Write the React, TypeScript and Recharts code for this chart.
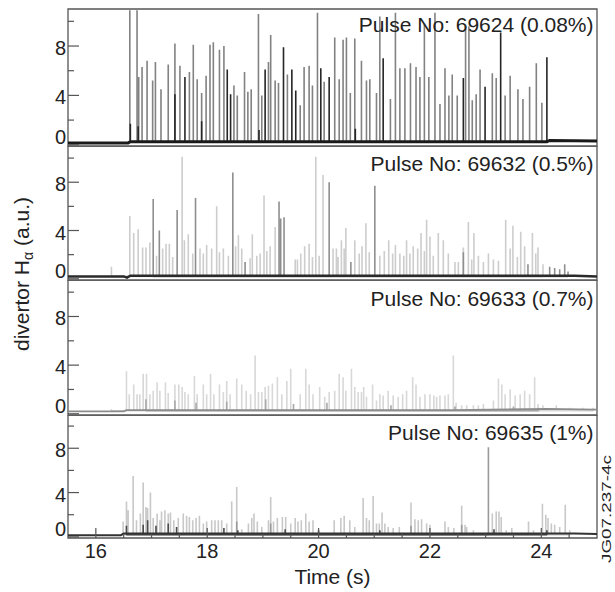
import React from "react";
import { LineChart, Line, XAxis, YAxis, ReferenceArea } from "recharts";

// axes: time in seconds, divertor H-alpha in arbitrary units
const timeDomain = [15.5, 25];
const timeTicks = [16, 16.5, 17, 17.5, 18, 18.5, 19, 19.5, 20, 20.5, 21, 21.5, 22, 22.5, 23, 23.5, 24, 24.5];
const timeLabels = [16, 18, 20, 22, 24];
const levelDomain = [-0.1, 11];
const levelTicks = [0, 2, 4, 6, 8, 10];
const levelLabels = [0, 4, 8];

const pulseLabels = [
  "Pulse No: 69624 (0.08%)",
  "Pulse No: 69632 (0.5%)",
  "Pulse No: 69633 (0.7%)",
  "Pulse No: 69635 (1%)",
];

// ELM spikes as [time, peak]; baselines as [time, level]
const p69624Grey = [
  [16.61, 10.9], [16.74, 10.9], [16.77, 5.5], [16.83, 6.3], [16.92, 6.8], [17.02, 5.2], [17.07, 6.7],
  [17.17, 4.5], [17.3, 6.5], [17.42, 8.2], [17.51, 6.4], [17.68, 5.9], [17.75, 8.1], [17.82, 5.3],
  [17.9, 4.2], [17.98, 5.6], [18.05, 8.1], [18.11, 8.3], [18.22, 7.7], [18.3, 8.0], [18.48, 4.8],
  [18.54, 4.0], [18.67, 5.9], [18.73, 4.3], [18.79, 4.5], [18.92, 10.6], [18.98, 4.0], [19.1, 6.7],
  [19.14, 8.9], [19.22, 5.2], [19.28, 5.0], [19.44, 5.7], [19.67, 3.2], [19.74, 6.3], [19.83, 6.4],
  [19.89, 4.8], [19.98, 10.7], [20.1, 5.1], [20.29, 8.7], [20.37, 5.3], [20.44, 8.5], [20.5, 8.7],
  [20.57, 4.2], [20.65, 8.6], [20.77, 6.8], [20.86, 5.2], [20.92, 5.3], [21.04, 4.2], [21.1, 10.4],
  [21.29, 3.7], [21.38, 10.7], [21.46, 6.2], [21.55, 6.2], [21.65, 6.6], [21.75, 6.3], [21.82, 5.5],
  [21.9, 9.8], [21.98, 5.5], [22.09, 10.7], [22.18, 3.3], [22.27, 6.2], [22.34, 4.0], [22.4, 5.7],
  [22.49, 4.0], [22.64, 9.6], [22.7, 9.6], [22.76, 3.6], [22.83, 4.1], [22.9, 6.1], [23.12, 5.8],
  [23.19, 5.4], [23.35, 4.0], [23.44, 5.6], [23.58, 4.5], [23.67, 3.7], [23.79, 4.7], [23.91, 6.6],
  [24.01, 3.4],
];
const p69624Dark = [
  [16.62, 1.7], [16.76, 1.5], [17.42, 4.1], [17.6, 5.5], [17.9, 1.9], [18.36, 6.1], [18.42, 4.1],
  [18.93, 1.2], [19.04, 6.1], [19.37, 7.9], [19.52, 6.1], [19.59, 4.4], [20.04, 6.2], [20.19, 5.5],
  [20.66, 1.3], [21.16, 7.0], [22.6, 5.4], [22.99, 4.7], [23.27, 9.1], [24.1, 7.1],
];
const p69624Base = [[15.5, 0.15], [16.58, 0.15], [16.62, 0.25], [24.1, 0.25], [24.15, 0.35], [25, 0.3]];

const p69632Light = [
  [16.28, 1.0], [16.61, 5.2], [16.68, 3.8], [16.76, 4.1], [16.84, 2.6], [16.9, 2.6], [16.97, 3.0],
  [17.09, 1.9], [17.2, 2.5], [17.26, 2.9], [17.32, 2.9], [17.38, 1.8], [17.55, 10.1], [17.59, 3.2],
  [17.66, 3.7], [17.74, 2.1], [17.87, 2.5], [17.93, 2.1], [17.99, 2.8], [18.08, 2.5], [18.17, 6.0],
  [18.22, 2.2], [18.29, 2.5], [18.38, 1.9], [18.51, 2.7], [18.56, 3.6], [18.62, 2.5], [18.77, 1.7],
  [18.81, 3.7], [18.89, 1.9], [18.95, 2.1], [19.02, 6.9], [19.07, 2.3], [19.13, 2.7], [19.22, 4.3],
  [19.58, 1.6], [19.62, 1.6], [19.68, 2.1], [19.75, 2.7], [19.83, 2.9], [19.89, 1.8], [19.95, 10.1],
  [20.01, 1.9], [20.08, 8.6], [20.26, 2.5], [20.32, 2.5], [20.35, 1.8], [20.41, 3.2], [20.46, 2.5],
  [20.49, 4.2], [20.65, 3.2], [20.73, 2.1], [20.78, 2.7], [20.85, 4.6], [20.91, 2.2], [21.1, 1.9],
  [21.18, 2.3], [21.26, 3.2], [21.33, 2.1], [21.38, 2.8], [21.46, 2.1], [21.53, 1.9], [21.58, 3.2],
  [21.64, 2.1], [21.7, 2.7], [21.78, 2.5], [21.84, 3.8], [21.9, 2.3], [21.94, 4.9], [22.0, 3.5],
  [22.06, 1.9], [22.15, 3.8], [22.24, 3.2], [22.33, 2.1], [22.45, 1.4], [22.51, 1.4], [22.6, 2.6],
  [22.69, 4.7], [22.75, 1.6], [22.79, 3.8], [22.87, 1.9], [22.96, 1.4], [23.05, 2.1], [23.14, 1.6],
  [23.23, 1.5], [23.36, 4.9], [23.44, 2.5], [23.49, 4.4], [23.57, 1.8], [23.63, 3.9], [23.7, 2.7],
  [23.84, 3.8], [23.9, 2.1], [23.94, 2.6], [24.03, 1.2],
];
const p69632Mid = [
  [17.03, 6.6], [17.14, 4.0], [17.46, 5.7], [17.79, 6.7], [18.46, 8.8], [18.68, 1.4], [19.29, 6.4],
  [19.32, 5.0], [19.38, 5.1], [20.19, 8.0], [20.58, 1.4], [21.01, 7.7], [22.6, 2.2], [23.76, 1.2],
  [24.15, 1.0], [24.24, 0.9], [24.33, 0.8], [24.42, 1.2], [24.48, 0.6],
];
const p69632Base = [[15.5, 0.2], [16.5, 0.2], [16.56, 0.1], [16.62, 0.25], [24.6, 0.25], [25, 0.2]];

const p69633Light = [
  [16.28, 0.4], [16.55, 3.5], [16.6, 1.6], [16.68, 2.4], [16.74, 1.6], [16.79, 1.6], [16.85, 3.3],
  [16.91, 3.3], [16.97, 1.6], [17.03, 1.9], [17.1, 2.6], [17.15, 1.9], [17.25, 2.6], [17.3, 1.7],
  [17.42, 2.4], [17.49, 2.4], [17.55, 2.2], [17.6, 1.8], [17.66, 1.6], [17.77, 3.1], [17.82, 1.6],
  [17.93, 2.4], [17.99, 1.6], [18.06, 3.3], [18.12, 1.6], [18.22, 2.4], [18.29, 1.8], [18.35, 2.7],
  [18.41, 1.6], [18.53, 2.9], [18.62, 2.4], [18.7, 1.9], [18.78, 1.6], [18.86, 4.8], [18.92, 1.8],
  [18.98, 1.8], [19.04, 2.2], [19.1, 2.3], [19.17, 2.5], [19.26, 3.0], [19.34, 1.6], [19.43, 2.7],
  [19.5, 3.7], [19.67, 1.6], [19.77, 3.7], [19.83, 2.4], [19.9, 1.6], [20.02, 2.2], [20.11, 1.4],
  [20.19, 1.8], [20.29, 1.9], [20.37, 3.3], [20.44, 3.0], [20.49, 1.9], [20.59, 3.7], [20.65, 2.2],
  [20.71, 1.8], [20.77, 1.8], [20.81, 2.2], [20.86, 1.4], [20.97, 2.4], [21.04, 1.1], [21.1, 1.6],
  [21.16, 1.5], [21.25, 1.9], [21.34, 1.5], [21.43, 1.4], [21.51, 1.6], [21.58, 1.9], [21.69, 3.0],
  [21.75, 2.4], [21.82, 1.4], [21.91, 1.6], [22.0, 1.6], [22.07, 1.5], [22.12, 1.4], [22.18, 1.5],
  [22.27, 1.5], [22.33, 1.6], [22.42, 4.8], [22.47, 0.9], [22.57, 0.7], [22.66, 0.7], [22.78, 0.7],
  [22.87, 0.7], [22.96, 0.8], [23.14, 1.1], [23.23, 2.9], [23.29, 2.4], [23.35, 1.6], [23.44, 2.0],
  [23.53, 1.5], [23.62, 1.6], [23.7, 1.9], [23.79, 1.6], [23.88, 3.0], [23.94, 0.8], [24.03, 0.7],
  [24.27, 0.7], [24.51, 0.5], [24.75, 0.5], [24.93, 0.5],
];
const p69633Mid = [
  [16.9, 1.2], [17.42, 1.1], [17.8, 0.9], [18.35, 1.0], [19.05, 1.2], [19.55, 0.8], [20.15, 0.9],
  [21.3, 0.7], [22.45, 0.6], [23.5, 0.6], [23.95, 0.5],
];
const p69633Base = [[15.5, 0.2], [16.5, 0.2], [16.55, 0.3], [22.4, 0.3], [24.1, 0.4], [25, 0.35]];

const p69635Light = [
  [16.49, 1.4], [16.55, 3.2], [16.58, 2.4], [16.67, 5.5], [16.73, 1.5], [16.8, 2.1], [16.85, 4.9],
  [16.9, 2.7], [16.93, 2.6], [16.98, 4.0], [17.03, 1.7], [17.1, 2.1], [17.15, 1.5], [17.18, 2.3],
  [17.24, 2.4], [17.3, 2.1], [17.34, 2.2], [17.4, 1.5], [17.48, 1.7], [17.57, 2.1], [17.63, 1.9],
  [17.68, 1.8], [17.74, 1.5], [17.8, 1.7], [17.86, 1.9], [17.93, 1.2], [17.99, 1.4], [18.08, 1.5],
  [18.14, 1.5], [18.2, 1.5], [18.26, 1.5], [18.35, 1.2], [18.44, 3.2], [18.53, 4.5], [18.62, 0.7],
  [18.74, 1.2], [18.8, 1.7], [18.84, 2.1], [18.9, 1.4], [18.98, 0.9], [19.1, 1.5], [19.14, 3.6],
  [19.19, 1.4], [19.26, 1.7], [19.35, 1.8], [19.41, 1.8], [19.5, 1.2], [19.58, 1.7], [19.63, 1.4],
  [19.69, 1.5], [19.77, 2.1], [19.83, 1.4], [19.9, 1.5], [20.28, 1.5], [20.4, 1.7], [20.46, 1.9],
  [20.56, 1.5], [20.65, 0.9], [20.8, 3.5], [20.86, 1.7], [20.91, 1.5], [20.98, 3.7], [21.04, 1.2],
  [21.09, 1.2], [21.14, 2.2], [21.19, 1.2], [21.25, 0.9], [21.34, 0.8], [21.45, 0.9], [21.66, 3.1],
  [21.73, 1.6], [21.79, 1.5], [21.85, 1.6], [21.94, 1.2], [22.0, 1.1], [22.27, 1.4], [22.33, 0.9],
  [22.43, 0.8], [22.57, 2.8], [22.63, 1.1], [22.66, 0.9], [22.78, 0.6], [23.12, 2.1], [23.19, 2.3],
  [23.24, 2.3], [23.28, 1.8], [23.37, 0.6], [23.47, 0.8], [23.77, 1.4], [23.86, 0.6], [24.02, 3.0],
  [24.08, 2.0], [24.12, 1.7], [24.18, 1.2], [24.24, 1.1], [24.33, 0.9], [24.43, 2.9], [24.51, 0.6],
];
const p69635Mid = [[23.05, 8.1], [18.53, 1.4], [19.14, 1.2], [21.66, 1.0], [22.57, 1.1]];
const p69635Dark = [
  [16.55, 1.0], [16.85, 1.1], [16.93, 1.5], [17.08, 1.0], [17.3, 1.2], [17.45, 0.9], [18.3, 0.8],
  [18.55, 0.6], [19.4, 0.7], [20.0, 0.6], [21.1, 0.6], [23.15, 0.7], [24.1, 0.6],
];
const p69635Base = [[15.5, 0.15], [16.45, 0.15], [16.5, 0.3], [24.6, 0.3], [25, 0.25]];

const FRAME = "#555";
const INK = "#222";
const FONT = '"Liberation Sans", Arial, Helvetica, sans-serif';
// extra room under the stacked panels so the "0" labels are not clipped
const PAD = 8;

const spikeTrace = (spikes: number[][], floor: number) =>
  spikes.flatMap(([t, h]) => [{ t, v: floor }, { t, v: h }, { t, v: floor }]);
const baseTrace = (pts: number[][]) => pts.map(([t, v]) => ({ t, v }));

const panels = [
  {
    label: pulseLabels[0], top: 0, height: 146 + PAD, marginTop: 9, marginBottom: PAD, labelTop: 14,
    series: [
      { data: spikeTrace(p69624Grey, 0.2), color: "#828282" },
      { data: spikeTrace(p69624Dark, 0.2), color: "#262626" },
    ],
    base: baseTrace(p69624Base), baseColor: "#1a1a1a", baseWidth: 3,
  },
  {
    label: pulseLabels[1], top: 146, height: 134 + PAD, marginTop: 0, marginBottom: PAD, labelTop: 153,
    series: [
      { data: spikeTrace(p69632Light, 0.2), color: "#cdcdcd" },
      { data: spikeTrace(p69632Mid, 0.2), color: "#8f8f8f" },
    ],
    base: baseTrace(p69632Base), baseColor: "#2a2a2a", baseWidth: 2.5,
  },
  {
    label: pulseLabels[2], top: 280, height: 135 + PAD, marginTop: 0, marginBottom: PAD, labelTop: 288,
    series: [
      { data: spikeTrace(p69633Light, 0.25), color: "#d8d8d8" },
      { data: spikeTrace(p69633Mid, 0.25), color: "#a8a8a8" },
    ],
    base: baseTrace(p69633Base), baseColor: "#8c8c8c", baseWidth: 1.8,
  },
  {
    label: pulseLabels[3], top: 415, height: 163, marginTop: 0, marginBottom: 0, labelTop: 422,
    series: [
      { data: spikeTrace(p69635Light, 0.2), color: "#c8c8c8" },
      { data: spikeTrace(p69635Mid, 0.2), color: "#9a9a9a" },
      { data: spikeTrace(p69635Dark, 0.2), color: "#4a4a4a" },
    ],
    base: baseTrace(p69635Base), baseColor: "#333", baseWidth: 2,
  },
];

function LevelTick({ x, y, payload }: any) {
  const major = levelLabels.includes(payload.value);
  return (
    <g>
      <line x1={x} x2={x + (major ? 11 : 6)} y1={y} y2={y} stroke={FRAME} strokeWidth={1.2} />
      {major && (
        <text x={x - 2} y={payload.value === 0 ? y - 0.5 : y + 9} textAnchor="end" fontSize={20} fill={INK} fontFamily={FONT}>
          {payload.value}
        </text>
      )}
    </g>
  );
}

function TimeTick({ x, y, payload, labelled }: any) {
  const major = timeLabels.includes(payload.value);
  return (
    <g>
      <line x1={x} x2={x} y1={y} y2={y - (major ? 10 : 4)} stroke={FRAME} strokeWidth={1.2} />
      {labelled && major && (
        <text x={x} y={y + 19.5} textAnchor="middle" fontSize={20} fill={INK} fontFamily={FONT}>
          {payload.value}
        </text>
      )}
    </g>
  );
}

function Panel({ cfg, last }: any) {
  return (
    <div style={{ position: "absolute", left: 0, top: cfg.top }}>
      <LineChart
        width={615}
        height={cfg.height}
        margin={{ top: cfg.marginTop, right: 18, bottom: cfg.marginBottom, left: 0 }}
      >
        <XAxis
          type="number"
          dataKey="t"
          domain={timeDomain}
          ticks={timeTicks}
          allowDataOverflow
          interval={0}
          height={last ? 40 : 0}
          axisLine={false}
          tickLine={false}
          tickSize={0}
          tickMargin={0}
          tick={(p: any) => <TimeTick {...p} labelled={last} />}
        />
        <YAxis
          type="number"
          domain={levelDomain}
          ticks={levelTicks}
          allowDataOverflow
          interval={0}
          width={68}
          axisLine={false}
          tickLine={false}
          tickSize={0}
          tickMargin={0}
          tick={(p: any) => <LevelTick {...p} />}
        />
        {cfg.series.map((s: any, i: number) => (
          <Line
            key={i}
            data={s.data}
            dataKey="v"
            type="linear"
            stroke={s.color}
            strokeWidth={1.6}
            strokeLinejoin="bevel"
            dot={false}
            activeDot={false}
            isAnimationActive={false}
          />
        ))}
        <Line
          data={cfg.base}
          dataKey="v"
          type="linear"
          stroke={cfg.baseColor}
          strokeWidth={cfg.baseWidth}
          dot={false}
          activeDot={false}
          isAnimationActive={false}
        />
        <ReferenceArea
          x1={timeDomain[0]}
          x2={timeDomain[1]}
          y1={levelDomain[0]}
          y2={levelDomain[1]}
          fill="none"
          stroke={FRAME}
          strokeWidth={1.3}
          fillOpacity={0}
        />
      </LineChart>
    </div>
  );
}

export default function App() {
  return (
    <div style={{ position: "absolute", left: 0, top: 0, width: 615, height: 592, background: "#fff", fontFamily: FONT, color: INK }}>
      {panels.map((cfg, i) => (
        <Panel key={i} cfg={cfg} last={i === panels.length - 1} />
      ))}
      {panels.map((cfg, i) => (
        <div key={"l" + i} style={{ position: "absolute", right: 21.5, top: cfg.labelTop, fontSize: 21, lineHeight: "21px", whiteSpace: "nowrap" }}>
          {cfg.label}
        </div>
      ))}
      <div style={{ position: "absolute", left: 332.5 - 60, width: 120, top: 565.5, fontSize: 21, lineHeight: "21px", textAlign: "center" }}>
        Time (s)
      </div>
      <div
        style={{
          position: "absolute", left: 22 - 110, top: 274 - 12, width: 220, height: 24,
          fontSize: 21, lineHeight: "24px", textAlign: "center", whiteSpace: "nowrap", transform: "rotate(-90deg)",
        }}
      >
        divertor H<sub style={{ fontSize: 14, verticalAlign: -4 }}>α</sub> (a.u.)
      </div>
      <div
        style={{
          position: "absolute", left: 607 - 50, top: 508.5 - 7, width: 100, height: 14,
          fontSize: 13, lineHeight: "14px", textAlign: "center", whiteSpace: "nowrap",
          transform: "rotate(-90deg) scaleX(1.45)",
        }}
      >
        JG07.237-4c
      </div>
    </div>
  );
}
